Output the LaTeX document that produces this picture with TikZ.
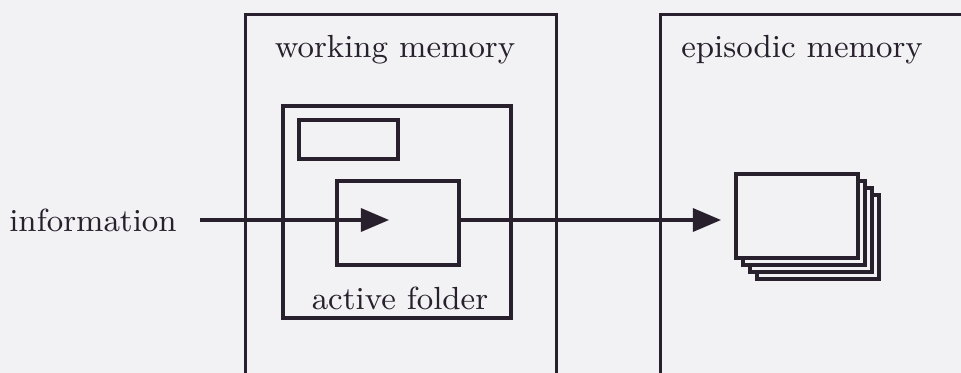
\documentclass[tikz,border=0pt]{standalone}
\usepackage{tikz}
\usetikzlibrary{positioning, arrows.meta}
\definecolor{paper}{RGB}{242,242,244}
\definecolor{ink}{RGB}{40,32,44}

\begin{document}
\begin{tikzpicture}[
        x=0.01cm, y=-0.01cm,
        % Style for boxes
        box/.style={
            rectangle, draw=ink, line width=0.9pt, fill=paper,
            inner sep=0pt
        },
        % Style for labels
        label/.style={
            text=ink, inner sep=0pt, font=\fontsize{9.1}{11}\selectfont
        },
        % Style for the flow arrows
        flow/.style={
            draw=ink, line width=0.9pt,
            -{Triangle[length=0.28cm, width=0.23cm]}
        }
    ]

        % 1. Page and clipping
        \fill[paper] (0,0) rectangle (961,373);
        \useasboundingbox (0,0) rectangle (961,373);
        \clip (0,0) rectangle (961,373);

        % 2. Memory stores (cut off at the bottom)
        \node[box, minimum width=3.10cm, minimum height=3.85cm] (wm) at (401,207.5) {};
        \node[box, minimum width=3.40cm, minimum height=3.85cm] (em) at (831,207.5) {};
        \node[label] (wmtext) at (395,50) {working memory};
        \node[label] (emtext) at (802,50) {episodic memory};

        % 3. Working memory contents
        \node[box, minimum width=2.28cm, minimum height=2.12cm] (folder) at (397,212) {};
        \node[box, minimum width=0.99cm, minimum height=0.39cm] (tab)    at (348.5,139.5) {};
        \node[box, minimum width=1.22cm, minimum height=0.84cm] (active) at (398,223) {};
        \node[label] (foldertext) at (400,298) {active folder};

        % 4. Stack of episodes
        \foreach \i in {3,2,1,0}
            \node[box, minimum width=1.22cm, minimum height=0.84cm] (page\i) at (797+7*\i,216+7*\i) {};

        % 5. Flow of information
        \node[label] (info) at (93,220) {information};
        \coordinate (start) at (200,220);
        \coordinate (intip) at (389,220);
        \coordinate (outtip) at (721,220);
        \draw[flow] (start) -- (intip);
        \draw[flow] (active.east |- intip) -- (outtip);

    \end{tikzpicture}
\end{document}
